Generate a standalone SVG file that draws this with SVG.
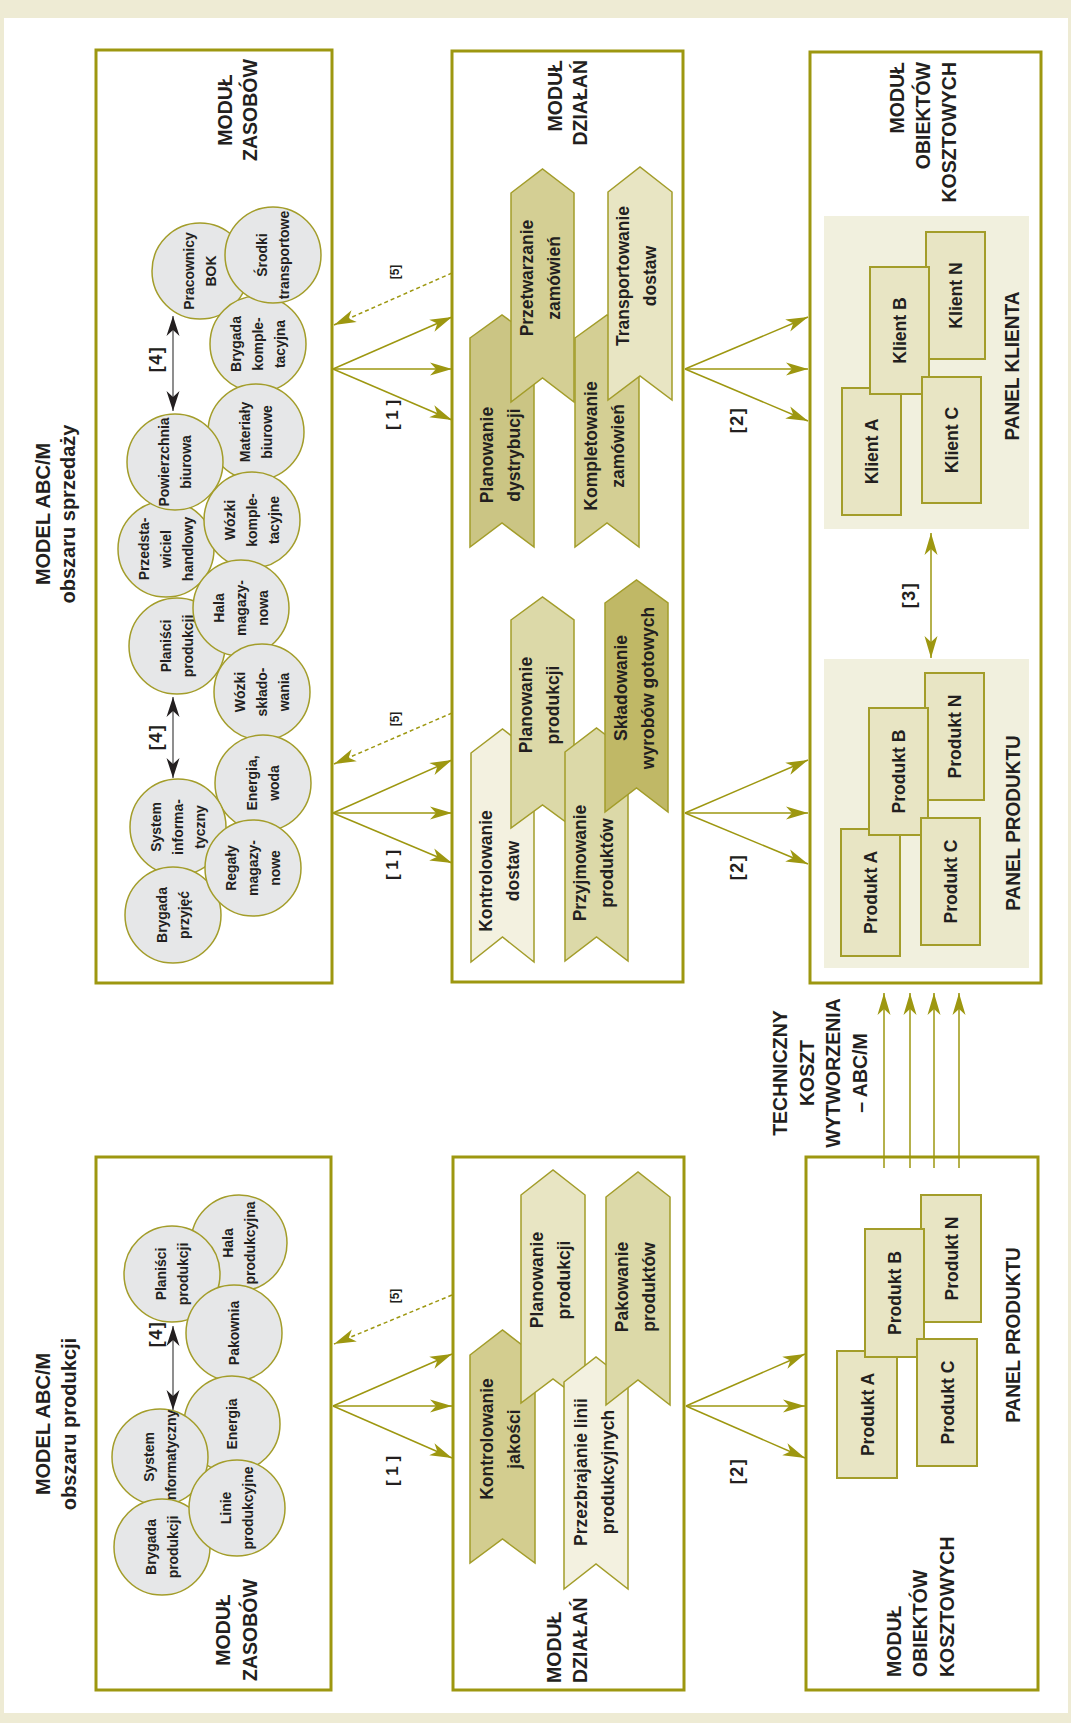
<svg xmlns="http://www.w3.org/2000/svg" width="1071" height="1723" viewBox="0 0 1071 1723">
<defs>
<style>
.t{font-family:"Liberation Sans",Arial,sans-serif;fill:#231f20;font-weight:bold}
.ci{font-size:15.5px;text-anchor:middle}
.ch{font-size:17.5px;text-anchor:middle}
.ti{font-size:19.5px}
.pr{font-size:18.5px;text-anchor:middle}
.pn{font-size:20px;text-anchor:middle}
.lb{font-size:17px;text-anchor:middle}
.lb2{font-size:18px;text-anchor:middle;letter-spacing:1.5px}
.lb5{font-size:12px;text-anchor:middle}
.box{fill:#fff;stroke:#9d9710;stroke-width:3}
.circ{fill:#e6e7e8;stroke:#a39d2a;stroke-width:1.5}
.chev{stroke:#a39d2a;stroke-width:1.5}
.panel{fill:#f1f0de}
.pb{fill:#e8e5c4;stroke:#a39d2a;stroke-width:2}
.ln{stroke:#9d9710;stroke-width:1.5;fill:none}
.dash{stroke:#9d9710;stroke-width:1.5;fill:none;stroke-dasharray:4 3}
.blk{stroke:#444;stroke-width:1.2;fill:none}
</style>
<marker id="ah" viewBox="-24 -8 26 16" refX="0" refY="0" markerWidth="26" markerHeight="16" markerUnits="userSpaceOnUse" orient="auto-start-reverse"><path d="M0,0 L-22,-6.5 L-16,0 L-22,6.5 Z" fill="#9d9710"/></marker>
<marker id="ahk" viewBox="-24 -8 26 16" refX="0" refY="0" markerWidth="26" markerHeight="16" markerUnits="userSpaceOnUse" orient="auto-start-reverse"><path d="M0,0 L-20,-6.5 L-14,0 L-20,6.5 Z" fill="#231f20"/></marker>
</defs>

<rect x="0" y="0" width="1071" height="1723" fill="#eeebd4"/>
<rect x="4" y="18" width="1064" height="1695" fill="#fff"/>

<!-- outer titles -->
<g id="title-sprzedaz">
<text class="t" style="font-size:20px;text-anchor:middle" transform="translate(43 514) rotate(-90)"><tspan x="0" y="7">MODEL ABC/M</tspan><tspan x="0" y="31.6">obszaru sprzedaży</tspan></text>
</g>
<g id="title-produkcja">
<text class="t" style="font-size:20px;text-anchor:middle" transform="translate(43 1424) rotate(-90)"><tspan x="0" y="7">MODEL ABC/M</tspan><tspan x="0" y="32.6">obszaru produkcji</tspan></text>
</g>

<!-- module boxes -->
<g id="modul-zasobow-s">
<rect class="box" x="96" y="50" width="236" height="933"/>
<text class="t ti" style="text-anchor:middle" transform="translate(225 110) rotate(-90)"><tspan x="0" y="7">MODUŁ</tspan><tspan x="0" y="32">ZASOBÓW</tspan></text>
</g>
<g id="modul-dzialan-s">
<rect class="box" x="452" y="51" width="231" height="931"/>
<text class="t ti" style="text-anchor:end" transform="translate(555 60) rotate(-90)"><tspan x="0" y="7">MODUŁ</tspan><tspan x="0" y="32">DZIAŁAŃ</tspan></text>
</g>
<g id="modul-obiektow-s">
<rect class="box" x="810" y="52" width="231" height="931"/>
<text class="t ti" style="text-anchor:end" transform="translate(897 62) rotate(-90)"><tspan x="0" y="7">MODUŁ</tspan><tspan x="0" y="33">OBIEKTÓW</tspan><tspan x="0" y="59">KOSZTOWYCH</tspan></text>
</g>
<g id="modul-zasobow-p">
<rect class="box" x="96" y="1157" width="235" height="533"/>
<text class="t ti" style="text-anchor:middle" transform="translate(223 1630) rotate(-90)"><tspan x="0" y="7">MODUŁ</tspan><tspan x="0" y="34">ZASOBÓW</tspan></text>
</g>
<g id="modul-dzialan-p">
<rect class="box" x="453" y="1157" width="231" height="533"/>
<text class="t ti" style="text-anchor:start" transform="translate(554 1683) rotate(-90)"><tspan x="0" y="7">MODUŁ</tspan><tspan x="0" y="33">DZIAŁAŃ</tspan></text>
</g>
<g id="modul-obiektow-p">
<rect class="box" x="806" y="1157" width="232" height="533"/>
<text class="t ti" style="text-anchor:start" transform="translate(894 1677) rotate(-90)"><tspan x="0" y="7">MODUŁ</tspan><tspan x="0" y="33">OBIEKTÓW</tspan><tspan x="0" y="60">KOSZTOWYCH</tspan></text>
</g>

<!-- resource circles: sales -->
<g id="r-przedstawiciel"><circle class="circ" cx="166" cy="549" r="48"/><text class="t ci" transform="translate(166 549) rotate(-90) scale(0.9 1)"><tspan x="0" y="-16.9">Przedsta-</tspan><tspan x="0" y="5.1">wiciel</tspan><tspan x="0" y="27.1">handlowy</tspan></text></g>
<g id="r-pracownicy"><circle class="circ" cx="200" cy="271" r="48"/><text class="t ci" transform="translate(200 271) rotate(-90) scale(0.9 1)"><tspan x="0" y="-5.9">Pracownicy</tspan><tspan x="0" y="16.1">BOK</tspan></text></g>
<g id="r-brygada-kompl"><circle class="circ" cx="258" cy="344" r="48"/><text class="t ci" transform="translate(258 344) rotate(-90) scale(0.9 1)"><tspan x="0" y="-16.9">Brygada</tspan><tspan x="0" y="5.1">komple-</tspan><tspan x="0" y="27.1">tacyjna</tspan></text></g>
<g id="r-materialy"><circle class="circ" cx="256" cy="432" r="48"/><text class="t ci" transform="translate(256 432) rotate(-90) scale(0.9 1)"><tspan x="0" y="-5.9">Materiały</tspan><tspan x="0" y="16.1">biurowe</tspan></text></g>
<g id="r-powierzchnia"><circle class="circ" cx="175" cy="462" r="48"/><text class="t ci" transform="translate(175 462) rotate(-90) scale(0.9 1)"><tspan x="0" y="-5.9">Powierzchnia</tspan><tspan x="0" y="16.1">biurowa</tspan></text></g>
<g id="r-srodki"><circle class="circ" cx="273" cy="255" r="48"/><text class="t ci" transform="translate(273 255) rotate(-90) scale(0.9 1)"><tspan x="0" y="-5.9">Środki</tspan><tspan x="0" y="16.1">transportowe</tspan></text></g>
<g id="r-wozki-kompl"><circle class="circ" cx="252" cy="520" r="48"/><text class="t ci" transform="translate(252 520) rotate(-90) scale(0.9 1)"><tspan x="0" y="-16.9">Wózki</tspan><tspan x="0" y="5.1">komple-</tspan><tspan x="0" y="27.1">tacyjne</tspan></text></g>
<g id="r-planisci-s"><circle class="circ" cx="177" cy="646" r="48"/><text class="t ci" transform="translate(177 646) rotate(-90) scale(0.9 1)"><tspan x="0" y="-5.9">Planiści</tspan><tspan x="0" y="16.1">produkcji</tspan></text></g>
<g id="r-hala-mag"><circle class="circ" cx="241" cy="608" r="48"/><text class="t ci" transform="translate(241 608) rotate(-90) scale(0.9 1)"><tspan x="0" y="-16.9">Hala</tspan><tspan x="0" y="5.1">magazy-</tspan><tspan x="0" y="27.1">nowa</tspan></text></g>
<g id="r-wozki-sklad"><circle class="circ" cx="262" cy="692" r="48"/><text class="t ci" transform="translate(262 692) rotate(-90) scale(0.9 1)"><tspan x="0" y="-16.9">Wózki</tspan><tspan x="0" y="5.1">składo-</tspan><tspan x="0" y="27.1">wania</tspan></text></g>
<g id="r-energia-woda"><circle class="circ" cx="263" cy="783" r="48"/><text class="t ci" transform="translate(263 783) rotate(-90) scale(0.9 1)"><tspan x="0" y="-5.9">Energia,</tspan><tspan x="0" y="16.1">woda</tspan></text></g>
<g id="r-system-s"><circle class="circ" cx="178" cy="827" r="48"/><text class="t ci" transform="translate(178 827) rotate(-90) scale(0.9 1)"><tspan x="0" y="-16.9">System</tspan><tspan x="0" y="5.1">informa-</tspan><tspan x="0" y="27.1">tyczny</tspan></text></g>
<g id="r-brygada-przyjec"><circle class="circ" cx="173" cy="915" r="48"/><text class="t ci" transform="translate(173 915) rotate(-90) scale(0.9 1)"><tspan x="0" y="-5.9">Brygada</tspan><tspan x="0" y="16.1">przyjęć</tspan></text></g>
<g id="r-regaly"><circle class="circ" cx="253" cy="868" r="48"/><text class="t ci" transform="translate(253 868) rotate(-90) scale(0.9 1)"><tspan x="0" y="-16.9">Regały</tspan><tspan x="0" y="5.1">magazy-</tspan><tspan x="0" y="27.1">nowe</tspan></text></g>

<!-- resource circles: production -->
<g id="r-hala-prod"><circle class="circ" cx="239" cy="1243" r="48"/><text class="t ci" transform="translate(239 1243) rotate(-90) scale(0.9 1)"><tspan x="0" y="-5.9">Hala</tspan><tspan x="0" y="16.1">produkcyjna</tspan></text></g>
<g id="r-planisci-p"><circle class="circ" cx="172" cy="1274" r="48"/><text class="t ci" transform="translate(172 1274) rotate(-90) scale(0.9 1)"><tspan x="0" y="-5.9">Planiści</tspan><tspan x="0" y="16.1">produkcji</tspan></text></g>
<g id="r-pakownia"><circle class="circ" cx="234" cy="1333" r="48"/><text class="t ci" transform="translate(234 1333) rotate(-90) scale(0.9 1)"><tspan x="0" y="5.1">Pakownia</tspan></text></g>
<g id="r-energia"><circle class="circ" cx="232" cy="1424" r="48"/><text class="t ci" transform="translate(232 1424) rotate(-90) scale(0.9 1)"><tspan x="0" y="5.1">Energia</tspan></text></g>
<g id="r-system-p"><circle class="circ" cx="160" cy="1457" r="48"/><text class="t ci" transform="translate(160 1457) rotate(-90) scale(0.9 1)"><tspan x="0" y="-5.9">System</tspan><tspan x="0" y="16.1">informatyczny</tspan></text></g>
<g id="r-brygada-prod"><circle class="circ" cx="162" cy="1547" r="48"/><text class="t ci" transform="translate(162 1547) rotate(-90) scale(0.9 1)"><tspan x="0" y="-5.9">Brygada</tspan><tspan x="0" y="16.1">produkcji</tspan></text></g>
<g id="r-linie"><circle class="circ" cx="237" cy="1508" r="48"/><text class="t ci" transform="translate(237 1508) rotate(-90) scale(0.9 1)"><tspan x="0" y="-5.9">Linie</tspan><tspan x="0" y="16.1">produkcyjne</tspan></text></g>

<!-- activities: sales -->
<g id="a-planowanie-dystr"><polygon class="chev" fill="#cbc584" points="470,338 502,315 534,338 534,547 502,523 470,547"/><text class="t ch" transform="translate(501 455) rotate(-90)"><tspan x="0" y="-7.7">Planowanie</tspan><tspan x="0" y="19.3">dystrybucji</tspan></text></g>
<g id="a-przetwarzanie"><polygon class="chev" fill="#d4cf94" points="511,193 542.5,169 574,193 574,402 542.5,378 511,402"/><text class="t ch" transform="translate(541 278) rotate(-90)"><tspan x="0" y="-7.7">Przetwarzanie</tspan><tspan x="0" y="19.3">zamówień</tspan></text></g>
<g id="a-kompletowanie"><polygon class="chev" fill="#d4cf94" points="575,338 607,315 639,338 639,547 607,523 575,547"/><text class="t ch" transform="translate(605 446) rotate(-90)"><tspan x="0" y="-7.7">Kompletowanie</tspan><tspan x="0" y="19.3">zamówień</tspan></text></g>
<g id="a-transportowanie"><polygon class="chev" fill="#e8e5c3" points="608,192 640,167 672,192 672,400 640,376 608,400"/><text class="t ch" transform="translate(637 276) rotate(-90)"><tspan x="0" y="-7.7">Transportowanie</tspan><tspan x="0" y="19.3">dostaw</tspan></text></g>
<g id="a-kontrolowanie-dostaw"><polygon class="chev" fill="#f3f1e0" points="471,753 502.5,729 534,753 534,962 502.5,937 471,962"/><text class="t ch" transform="translate(500 871) rotate(-90)"><tspan x="0" y="-7.7">Kontrolowanie</tspan><tspan x="0" y="19.3">dostaw</tspan></text></g>
<g id="a-planowanie-prod-s"><polygon class="chev" fill="#dcd9a8" points="511,620 542.5,597 574,620 574,828 542.5,805 511,828"/><text class="t ch" transform="translate(540 705) rotate(-90)"><tspan x="0" y="-7.7">Planowanie</tspan><tspan x="0" y="19.3">produkcji</tspan></text></g>
<g id="a-przyjmowanie"><polygon class="chev" fill="#dcd9a8" points="565,752 596.5,728 628,752 628,961 596.5,937 565,961"/><text class="t ch" transform="translate(594 863) rotate(-90)"><tspan x="0" y="-7.7">Przyjmowanie</tspan><tspan x="0" y="19.3">produktów</tspan></text></g>
<g id="a-skladowanie"><polygon class="chev" fill="#c0b866" points="605,603 636.5,580 668,603 668,812 636.5,788 605,812"/><text class="t ch" transform="translate(635 688) rotate(-90)"><tspan x="0" y="-7.7">Składowanie</tspan><tspan x="0" y="19.3">wyrobów gotowych</tspan></text></g>

<!-- activities: production -->
<g id="a-kontrolowanie-jakosci"><polygon class="chev" fill="#d3cd8f" points="470,1355 502.5,1330 535,1355 535,1563 502.5,1539 470,1563"/><text class="t ch" transform="translate(501 1439) rotate(-90)"><tspan x="0" y="-7.7">Kontrolowanie</tspan><tspan x="0" y="19.3">jakości</tspan></text></g>
<g id="a-planowanie-prod-p"><polygon class="chev" fill="#e8e5c3" points="521,1195 553,1170 585,1195 585,1403 553,1379 521,1403"/><text class="t ch" transform="translate(551 1280) rotate(-90)"><tspan x="0" y="-7.7">Planowanie</tspan><tspan x="0" y="19.3">produkcji</tspan></text></g>
<g id="a-przezbrajanie"><polygon class="chev" fill="#f3f1e0" points="564,1382 596,1357 628,1382 628,1589 596,1564 564,1589"/><text class="t ch" transform="translate(595 1472) rotate(-90)"><tspan x="0" y="-7.7">Przezbrajanie linii</tspan><tspan x="0" y="19.3">produkcyjnych</tspan></text></g>
<g id="a-pakowanie"><polygon class="chev" fill="#dcd9a8" points="606,1197 638,1172 670,1197 670,1405 638,1380 606,1405"/><text class="t ch" transform="translate(636 1287) rotate(-90)"><tspan x="0" y="-7.7">Pakowanie</tspan><tspan x="0" y="19.3">produktów</tspan></text></g>

<!-- cost objects: sales -->
<g id="panel-klienta">
<rect class="panel" x="824" y="216" width="205" height="313"/>
<text class="t pn" transform="translate(1012 366) rotate(-90) scale(0.95 1)"><tspan x="0" y="7">PANEL KLIENTA</tspan></text>
</g>
<g id="klient-a"><rect class="pb" x="842" y="388" width="59" height="127"/><text class="t pr" transform="translate(871.5 451.5) rotate(-90) scale(0.95 1)"><tspan x="0" y="6.5">Klient A</tspan></text></g>
<g id="klient-n"><rect class="pb" x="926" y="232" width="59" height="127"/><text class="t pr" transform="translate(955.5 295.5) rotate(-90) scale(0.95 1)"><tspan x="0" y="6.5">Klient N</tspan></text></g>
<g id="klient-b"><rect class="pb" x="870" y="267" width="59" height="127"/><text class="t pr" transform="translate(899.5 330.5) rotate(-90) scale(0.95 1)"><tspan x="0" y="6.5">Klient B</tspan></text></g>
<g id="klient-c"><rect class="pb" x="922" y="377" width="59" height="126"/><text class="t pr" transform="translate(951.5 440) rotate(-90) scale(0.95 1)"><tspan x="0" y="6.5">Klient C</tspan></text></g>

<g id="panel-produktu-s">
<rect class="panel" x="824" y="659" width="205" height="309"/>
<text class="t pn" transform="translate(1013 823) rotate(-90) scale(0.95 1)"><tspan x="0" y="7">PANEL PRODUKTU</tspan></text>
</g>
<g id="produkt-a-s"><rect class="pb" x="841" y="829" width="59" height="127"/><text class="t pr" transform="translate(870.5 892.5) rotate(-90) scale(0.95 1)"><tspan x="0" y="6.5">Produkt A</tspan></text></g>
<g id="produkt-n-s"><rect class="pb" x="925" y="673" width="59" height="127"/><text class="t pr" transform="translate(954.5 736.5) rotate(-90) scale(0.95 1)"><tspan x="0" y="6.5">Produkt N</tspan></text></g>
<g id="produkt-b-s"><rect class="pb" x="869" y="708" width="59" height="127"/><text class="t pr" transform="translate(898.5 771.5) rotate(-90) scale(0.95 1)"><tspan x="0" y="6.5">Produkt B</tspan></text></g>
<g id="produkt-c-s"><rect class="pb" x="921" y="818" width="59" height="127"/><text class="t pr" transform="translate(950.5 881.5) rotate(-90) scale(0.95 1)"><tspan x="0" y="6.5">Produkt C</tspan></text></g>

<!-- cost objects: production -->
<g id="panel-produktu-p">
<text class="t pn" transform="translate(1013 1335) rotate(-90) scale(0.95 1)"><tspan x="0" y="7">PANEL PRODUKTU</tspan></text>
</g>
<g id="produkt-a-p"><rect class="pb" x="837" y="1351" width="60" height="127"/><text class="t pr" transform="translate(867 1414.5) rotate(-90) scale(0.95 1)"><tspan x="0" y="6.5">Produkt A</tspan></text></g>
<g id="produkt-n-p"><rect class="pb" x="921" y="1195" width="60" height="127"/><text class="t pr" transform="translate(951 1258.5) rotate(-90) scale(0.95 1)"><tspan x="0" y="6.5">Produkt N</tspan></text></g>
<g id="produkt-b-p"><rect class="pb" x="865" y="1229" width="59" height="128"/><text class="t pr" transform="translate(894.5 1293) rotate(-90) scale(0.95 1)"><tspan x="0" y="6.5">Produkt B</tspan></text></g>
<g id="produkt-c-p"><rect class="pb" x="917" y="1339" width="60" height="127"/><text class="t pr" transform="translate(947 1402.5) rotate(-90) scale(0.95 1)"><tspan x="0" y="6.5">Produkt C</tspan></text></g>

<g id="koszt-label">
<text class="t ti" style="text-anchor:middle" transform="translate(780 1073) rotate(-90)"><tspan x="0" y="7">TECHNICZNY</tspan><tspan x="0" y="34">KOSZT</tspan><tspan x="0" y="60">WYTWORZENIA</tspan><tspan x="0" y="87">– ABC/M</tspan></text>
</g>

<!-- connectors -->
<g id="connectors">
<line class="ln" x1="333" y1="369" x2="452" y2="317" marker-end="url(#ah)"/>
<line class="ln" x1="333" y1="369" x2="452" y2="369" marker-end="url(#ah)"/>
<line class="ln" x1="333" y1="369" x2="452" y2="420" marker-end="url(#ah)"/>
<line class="ln" x1="333" y1="813" x2="452" y2="760" marker-end="url(#ah)"/>
<line class="ln" x1="333" y1="813" x2="452" y2="813" marker-end="url(#ah)"/>
<line class="ln" x1="333" y1="813" x2="452" y2="863" marker-end="url(#ah)"/>
<line class="ln" x1="333" y1="1406" x2="452" y2="1354" marker-end="url(#ah)"/>
<line class="ln" x1="333" y1="1406" x2="452" y2="1406" marker-end="url(#ah)"/>
<line class="ln" x1="333" y1="1406" x2="452" y2="1458" marker-end="url(#ah)"/>

<line class="ln" x1="685" y1="369" x2="808" y2="317" marker-end="url(#ah)"/>
<line class="ln" x1="685" y1="369" x2="808" y2="369" marker-end="url(#ah)"/>
<line class="ln" x1="685" y1="369" x2="808" y2="421" marker-end="url(#ah)"/>
<line class="ln" x1="685" y1="813" x2="808" y2="760" marker-end="url(#ah)"/>
<line class="ln" x1="685" y1="813" x2="808" y2="813" marker-end="url(#ah)"/>
<line class="ln" x1="685" y1="813" x2="808" y2="864" marker-end="url(#ah)"/>
<line class="ln" x1="686" y1="1406" x2="805" y2="1354" marker-end="url(#ah)"/>
<line class="ln" x1="686" y1="1406" x2="805" y2="1406" marker-end="url(#ah)"/>
<line class="ln" x1="686" y1="1406" x2="805" y2="1458" marker-end="url(#ah)"/>

<line class="dash" x1="452" y1="273" x2="334" y2="325" marker-end="url(#ah)"/>
<line class="dash" x1="452" y1="713" x2="334" y2="764" marker-end="url(#ah)"/>
<line class="dash" x1="452" y1="1295" x2="334" y2="1344" marker-end="url(#ah)"/>

<line class="blk" x1="173" y1="316" x2="173" y2="411" marker-start="url(#ahk)" marker-end="url(#ahk)"/>
<line class="blk" x1="173" y1="697" x2="173" y2="778" marker-start="url(#ahk)" marker-end="url(#ahk)"/>
<line class="blk" x1="173" y1="1326" x2="173" y2="1410" marker-start="url(#ahk)" marker-end="url(#ahk)"/>

<line class="ln" x1="931" y1="533" x2="931" y2="658" marker-start="url(#ah)" marker-end="url(#ah)"/>

<line class="ln" x1="884" y1="1168" x2="884" y2="993" marker-end="url(#ah)"/>
<line class="ln" x1="910" y1="1168" x2="910" y2="993" marker-end="url(#ah)"/>
<line class="ln" x1="934" y1="1168" x2="934" y2="993" marker-end="url(#ah)"/>
<line class="ln" x1="959" y1="1168" x2="959" y2="993" marker-end="url(#ah)"/>

<text class="t lb" transform="translate(393 415) rotate(-90)"><tspan x="0" y="5">[ 1 ]</tspan></text>
<text class="t lb" transform="translate(393 865) rotate(-90)"><tspan x="0" y="5">[ 1 ]</tspan></text>
<text class="t lb" transform="translate(393 1471) rotate(-90)"><tspan x="0" y="5">[ 1 ]</tspan></text>
<text class="t lb5" transform="translate(395 272) rotate(-90)"><tspan x="0" y="3.6">[5]</tspan></text>
<text class="t lb5" transform="translate(395 719) rotate(-90)"><tspan x="0" y="3.6">[5]</tspan></text>
<text class="t lb5" transform="translate(395 1296) rotate(-90)"><tspan x="0" y="3.6">[5]</tspan></text>
<text class="t lb2" transform="translate(738 420) rotate(-90)"><tspan x="0" y="5.4">[2]</tspan></text>
<text class="t lb2" transform="translate(738 867) rotate(-90)"><tspan x="0" y="5.4">[2]</tspan></text>
<text class="t lb2" transform="translate(738 1471) rotate(-90)"><tspan x="0" y="5.4">[2]</tspan></text>
<text class="t lb2" transform="translate(157 359) rotate(-90)"><tspan x="0" y="5.4">[4]</tspan></text>
<text class="t lb2" transform="translate(157 737) rotate(-90)"><tspan x="0" y="5.4">[4]</tspan></text>
<text class="t lb2" transform="translate(157 1334) rotate(-90)"><tspan x="0" y="5.4">[4]</tspan></text>
<text class="t lb2" transform="translate(910 595) rotate(-90)"><tspan x="0" y="5.4">[3]</tspan></text>
</g>
</svg>
